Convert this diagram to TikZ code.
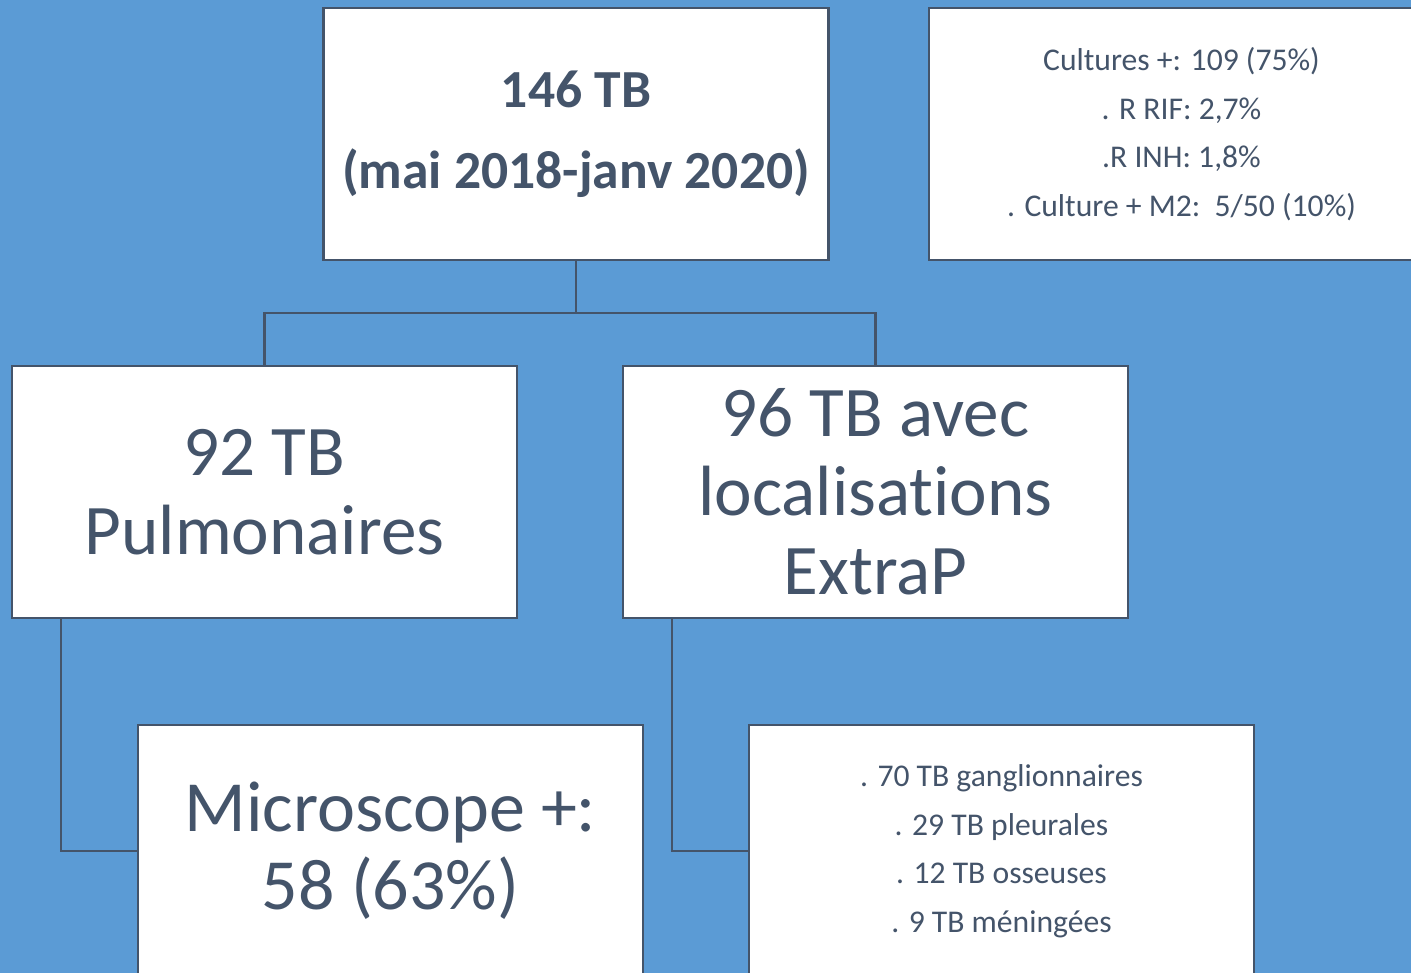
\documentclass[tikz,border=0pt]{standalone}
\usepackage{fontspec}
\setmainfont{Carlito}[Ligatures=NoCommon]
\usetikzlibrary{calc}
\definecolor{bg}{HTML}{5B9BD5}
\definecolor{ink}{HTML}{44546A}
\begin{document}
\begin{tikzpicture}[x=0.02cm,y=-0.02cm,
  box/.style={draw=ink, line width=1.2pt, fill=white, minimum width=10.1cm, minimum height=5.04cm, inner sep=0pt, text=ink, align=center, anchor=center},
  link/.style={draw=ink, line width=1.2pt}]
\fill[bg] (0,0) rectangle (1411,973);
\useasboundingbox (0,0) rectangle (1411,973);
\node[box, font=\bfseries\fontsize{30.5}{46}\selectfont] (top) at (576,134) {146 TB\\(mai 2018-janv 2020)};
\node[box, font=\fontsize{18}{27.6}\selectfont] (stats) at (1181.5,134) {Cultures +: 109 (75\%)\\. R RIF: 2,7\%\\.R INH: 1,8\%\\. Culture + M2:\ \ 5/50 (10\%)};
\node[box, font=\fontsize{40.5}{44.8}\selectfont] (pulm) at (264.5,492) {92 TB\\Pulmonaires};
\node[box, font=\fontsize{40.5}{45}\selectfont] (extra) at (875.5,492) {96 TB avec\\localisations\\ExtraP};
\node[box, font=\fontsize{41}{44.5}\selectfont] (micro) at (390.5,851) {Microscope +:\\58 (63\%)};
\node[box, font=\fontsize{18}{27.6}\selectfont] (list) at (1001.5,851) {. 70 TB ganglionnaires\\. 29 TB pleurales\\. 12 TB osseuses\\. 9 TB méningées};
\coordinate (bus) at (576,313);
\draw[link] (top.south) -- (bus);
\draw[link] (bus) -| (pulm.north);
\draw[link] (bus) -| (extra.north);
\draw[link] ($(pulm.south west)+(50,0)$) |- (micro.west);
\draw[link] ($(extra.south west)+(50,0)$) |- (list.west);
\end{tikzpicture}
\end{document}
